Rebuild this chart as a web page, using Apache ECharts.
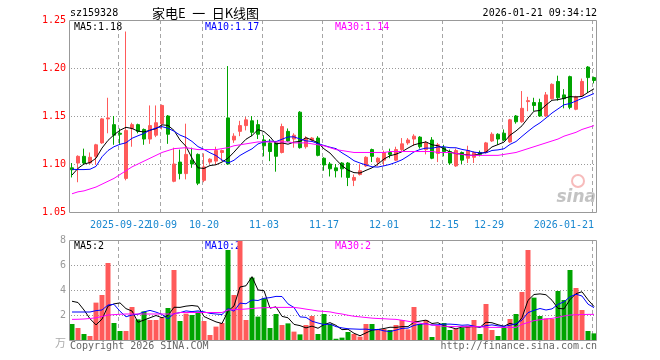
<!DOCTYPE html>
<html><head><meta charset="utf-8">
<script src="https://cdn.jsdelivr.net/npm/echarts@6/dist/echarts.min.js"></script>
<style>html,body{margin:0;padding:0;background:#fff}#c{width:660px;height:360px;background:#fff}</style>
</head><body><div id="c"></div>
<script>
const dates = ['2025-09-10','2025-09-11','2025-09-12','2025-09-15','2025-09-16','2025-09-17','2025-09-18','2025-09-19','2025-09-22','2025-09-23',
'2025-09-24','2025-09-25','2025-09-26','2025-09-29','2025-09-30','2025-10-09','2025-10-10','2025-10-13','2025-10-14','2025-10-15',
'2025-10-16','2025-10-17','2025-10-20','2025-10-21','2025-10-22','2025-10-23','2025-10-24','2025-10-27','2025-10-28','2025-10-29',
'2025-10-30','2025-10-31','2025-11-03','2025-11-04','2025-11-05','2025-11-06','2025-11-07','2025-11-10','2025-11-11','2025-11-12',
'2025-11-13','2025-11-14','2025-11-17','2025-11-18','2025-11-19','2025-11-20','2025-11-21','2025-11-24','2025-11-25','2025-11-26',
'2025-11-27','2025-11-28','2025-12-01','2025-12-02','2025-12-03','2025-12-04','2025-12-05','2025-12-08','2025-12-09','2025-12-10',
'2025-12-11','2025-12-12','2025-12-15','2025-12-16','2025-12-17','2025-12-18','2025-12-19','2025-12-22','2025-12-23','2025-12-24',
'2025-12-25','2025-12-26','2025-12-29','2025-12-30','2025-12-31','2026-01-05','2026-01-06','2026-01-07','2026-01-08','2026-01-09',
'2026-01-12','2026-01-13','2026-01-14','2026-01-15','2026-01-16','2026-01-19','2026-01-20','2026-01-21'];

const opens = [1.096,1.101,1.108,1.101,1.108,1.122,1.147,1.141,1.132,1.085,
 1.137,1.141,1.136,1.126,1.130,1.142,1.150,1.082,1.102,1.090,
 1.104,1.110,1.083,1.102,1.103,1.112,1.148,1.125,1.134,1.140,
 1.145,1.141,1.125,1.122,1.122,1.112,1.134,1.126,1.154,1.118,
 1.125,1.127,1.106,1.100,1.096,1.101,1.101,1.083,1.089,1.098,
 1.115,1.102,1.104,1.112,1.104,1.115,1.122,1.126,1.128,1.115,
 1.125,1.111,1.117,1.113,1.098,1.112,1.106,1.107,1.112,1.112,
 1.124,1.131,1.132,1.123,1.150,1.144,1.165,1.164,1.164,1.150,
 1.168,1.186,1.172,1.191,1.157,1.171,1.201,1.190];
const closes = [1.094,1.108,1.101,1.107,1.120,1.147,1.148,1.130,1.131,1.135,
 1.141,1.134,1.126,1.140,1.143,1.161,1.131,1.100,1.090,1.110,
 1.100,1.080,1.097,1.105,1.114,1.114,1.100,1.129,1.140,1.146,
 1.133,1.131,1.119,1.113,1.108,1.139,1.124,1.130,1.117,1.127,
 1.127,1.109,1.099,1.095,1.093,1.095,1.086,1.086,1.093,1.107,
 1.108,1.106,1.112,1.110,1.115,1.121,1.125,1.129,1.118,1.122,
 1.106,1.120,1.113,1.101,1.114,1.104,1.114,1.112,1.110,1.122,
 1.131,1.126,1.125,1.146,1.144,1.158,1.166,1.161,1.150,1.172,
 1.183,1.169,1.168,1.159,1.170,1.186,1.190,1.187];
const lows = [1.086,1.081,1.100,1.100,1.099,1.121,1.132,1.120,1.121,1.083,
 1.118,1.132,1.120,1.121,1.128,1.136,1.121,1.081,1.084,1.084,
 1.096,1.078,1.081,1.100,1.099,1.103,1.099,1.122,1.129,1.135,
 1.129,1.126,1.108,1.103,1.092,1.111,1.123,1.117,1.116,1.116,
 1.124,1.108,1.093,1.087,1.086,1.086,1.077,1.077,1.088,1.097,
 1.102,1.098,1.098,1.106,1.103,1.113,1.120,1.119,1.116,1.110,
 1.105,1.102,1.108,1.099,1.097,1.100,1.101,1.101,1.108,1.111,
 1.123,1.120,1.124,1.122,1.142,1.143,1.155,1.155,1.149,1.149,
 1.167,1.166,1.158,1.157,1.156,1.170,1.174,1.184];
const highs = [1.101,1.109,1.116,1.112,1.121,1.148,1.169,1.150,1.137,1.238,
 1.143,1.142,1.137,1.161,1.161,1.162,1.151,1.117,1.115,1.142,
 1.117,1.111,1.111,1.106,1.118,1.115,1.202,1.132,1.145,1.149,
 1.150,1.146,1.130,1.126,1.124,1.142,1.137,1.132,1.155,1.129,
 1.128,1.129,1.107,1.102,1.100,1.102,1.102,1.089,1.100,1.108,
 1.116,1.107,1.114,1.116,1.118,1.127,1.127,1.131,1.129,1.124,
 1.128,1.122,1.120,1.115,1.116,1.113,1.119,1.113,1.114,1.123,
 1.133,1.132,1.136,1.147,1.151,1.176,1.170,1.169,1.168,1.175,
 1.184,1.192,1.178,1.192,1.171,1.189,1.202,1.191];

const ma5 = [1.0885,1.0955,1.100,1.1015,1.106,1.1166,1.1246,1.1304,1.1352,1.1382,
 1.137,1.1342,1.1334,1.1352,1.1368,1.1408,1.1402,1.135,1.125,1.1184,
 1.1062,1.096,1.0954,1.0984,1.0992,1.102,1.106,1.1124,1.1194,1.1258,
 1.1296,1.1358,1.1338,1.1284,1.1208,1.122,1.1206,1.1228,1.1236,1.1274,
 1.125,1.122,1.1158,1.1114,1.1046,1.0982,1.0936,1.091,1.0906,1.0934,
 1.096,1.100,1.1052,1.1086,1.1102,1.1128,1.1166,1.120,1.1216,1.123,
 1.120,1.119,1.1158,1.1124,1.1108,1.1104,1.1092,1.109,1.1108,1.1124,
 1.1178,1.1202,1.1228,1.130,1.1344,1.1398,1.1478,1.155,1.1558,1.1614,
 1.1664,1.167,1.1684,1.1702,1.1698,1.1704,1.1746,1.1784];
const ma10 = [1.0945,1.0942,1.0942,1.0945,1.0975,1.1075,1.114,1.118,1.1205,1.1221,
 1.1268,1.1294,1.1319,1.1352,1.1375,1.1389,1.1372,1.1342,1.1301,1.1276,
 1.1235,1.1181,1.1152,1.1117,1.1088,1.1041,1.101,1.1039,1.1089,1.1125,
 1.1158,1.1209,1.1231,1.1239,1.1233,1.1258,1.1282,1.1283,1.126,1.1241,
 1.1235,1.1213,1.1193,1.1175,1.116,1.1116,1.1078,1.1034,1.101,1.099,
 1.0971,1.0968,1.0981,1.0996,1.1018,1.1044,1.1083,1.1126,1.1151,1.1166,
 1.1164,1.1178,1.1179,1.117,1.1169,1.1152,1.1141,1.1124,1.1116,1.1116,
 1.1141,1.1147,1.1159,1.1204,1.1234,1.1288,1.134,1.1389,1.1429,1.1479,
 1.1531,1.1574,1.1617,1.163,1.1656,1.1684,1.1708,1.1734];
const ma30 = [1.069,1.071,1.072,1.074,1.076,1.079,1.082,1.085,1.089,1.093,
 1.097,1.100,1.103,1.106,1.109,1.112,1.114,1.116,1.1165,1.117,
 1.116,1.115,1.115,1.115,1.115,1.116,1.117,1.119,1.120,1.121,
 1.122,1.123,1.123,1.123,1.123,1.123,1.123,1.122,1.122,1.122,
 1.121,1.120,1.119,1.117,1.115,1.114,1.113,1.112,1.112,1.112,
 1.112,1.112,1.112,1.113,1.113,1.113,1.113,1.113,1.113,1.113,
 1.113,1.112,1.112,1.112,1.111,1.110,1.109,1.109,1.109,1.109,
 1.109,1.109,1.110,1.111,1.112,1.114,1.116,1.118,1.120,1.122,
 1.124,1.126,1.129,1.131,1.133,1.136,1.138,1.140];

const volumes = [1.28,0.96,0.48,0.32,2.99,3.6,6.16,1.36,0.72,0.72,
 2.64,1.65,2.29,1.6,1.6,1.76,2.56,5.6,1.52,2.11,
 2.0,2.27,1.52,0.4,1.07,1.36,7.2,3.6,7.95,1.6,
 4.99,1.87,3.33,0.96,2.08,1.2,1.33,0.67,0.45,1.2,
 1.92,0.48,2.08,1.28,0.1,0.19,0.64,0.48,0.27,1.28,
 1.28,0.88,0.88,0.8,1.2,1.6,0.85,2.64,1.28,1.6,
 0.24,1.15,1.36,0.8,0.88,0.99,1.15,1.6,0.48,2.88,
 0.8,0.32,1.04,1.68,2.08,3.84,7.2,3.39,1.92,1.73,
 1.68,3.92,3.2,5.6,4.16,2.4,0.72,0.53];
const volMa5 = [3.1,3.0,2.4,1.7,1.21,1.67,2.71,2.89,2.97,2.51,
 2.32,1.42,1.60,1.78,1.96,1.78,1.96,2.62,2.61,2.71,
 2.76,2.70,1.88,1.66,1.45,1.32,2.31,2.73,4.24,4.34,
 5.07,4.00,3.95,2.55,2.65,1.89,1.78,1.25,1.15,0.97,
 1.11,0.94,1.23,1.39,1.17,0.83,0.86,0.54,0.34,0.57,
 0.79,0.84,0.92,1.02,1.01,1.07,1.07,1.42,1.51,1.59,
 1.32,1.38,1.13,1.03,0.89,1.04,1.04,1.08,1.02,1.42,
 1.38,1.22,1.10,1.34,1.18,1.79,3.17,3.64,3.69,3.62,
 3.18,2.53,2.49,3.23,3.71,3.86,3.22,2.68];
const volMa10 = [2.24,2.24,2.24,2.24,2.35,2.4,2.8,2.85,2.3,1.86,
 2.00,2.06,2.25,2.37,2.23,2.05,1.69,2.11,2.19,2.33,
 2.27,2.33,2.25,2.13,2.08,2.04,2.51,2.31,2.95,2.90,
 3.20,3.16,3.34,3.39,3.49,3.48,2.89,2.60,1.85,1.81,
 1.50,1.36,1.24,1.27,1.07,0.97,0.90,0.88,0.86,0.87,
 0.81,0.85,0.73,0.68,0.79,0.93,0.95,1.17,1.27,1.30,
 1.20,1.22,1.27,1.27,1.24,1.18,1.21,1.11,1.03,1.15,
 1.21,1.13,1.09,1.18,1.30,1.59,2.19,2.37,2.52,2.40,
 2.49,2.85,3.06,3.46,3.66,3.52,2.87,2.59];
const volMa30 = [1.65,1.66,1.68,1.72,1.78,1.88,2.0,2.03,2.06,2.08,
 2.08,2.08,2.08,2.08,2.08,2.08,2.08,2.08,2.2,2.2,
 2.2,2.2,2.2,2.2,2.2,2.2,2.4,2.42,2.45,2.48,
 2.52,2.56,2.58,2.6,2.61,2.61,2.61,2.61,2.55,2.47,
 2.4,2.32,2.29,2.25,2.15,2.08,1.98,1.9,1.85,1.8,
 1.75,1.72,1.7,1.67,1.65,1.58,1.5,1.42,1.35,1.27,
 1.2,1.15,1.1,1.08,1.07,1.07,1.07,1.07,1.07,1.01,
 1.01,1.01,1.01,1.01,1.01,1.25,1.4,1.55,1.62,1.68,
 1.73,1.82,1.92,2.0,2.02,2.04,2.05,2.05];

const tickIndex = [8,15,22,32,42,52,62,72,87];
const tickLabels = ['2025-09-22','10-09','10-20','11-03','11-17','12-01','12-15','12-29','2026-01-21'];
const priceLines = [1.10, 1.15, 1.20];
const volLines = [2, 4, 6];
const priceRange = [1.05, 1.25];
const volRange = [0, 8];

const UP = '#ff5a5a', DOWN = '#00a400';
const MONO = '"DejaVu Sans Mono", "Liberation Mono", monospace';
const labelFor = (i) => { const k = tickIndex.indexOf(i); return k >= 0 ? tickLabels[k] : ''; };
const setA = tickIndex.filter((d, k) => k % 2 === 0);
const setB = tickIndex.filter((d, k) => k % 2 === 1);

const kData = dates.map((d, i) => [opens[i], closes[i], lows[i], highs[i]]);
const volData = volumes.map((v, i) => ({value: v, itemStyle: {color: closes[i] >= opens[i] ? UP : DOWN}}));

const chart = echarts.init(document.getElementById('c'), null, {renderer: 'canvas'});
const gridLeft = 69, gridRight = 63, W = 660 - gridLeft - gridRight;
const G1 = {top: 20, h: 192}, G2 = {top: 240, h: 100};
const txt = (x, y, text, fill, font, align, z) => ({type: 'text', x: x, y: y, silent: true, z: z == null ? 100 : z,
  style: {text: text, fill: fill, font: font || ('10px ' + MONO), align: align || 'left', verticalAlign: 'middle'}});
const frame = (g) => ({type: 'rect', silent: true, z: 50, shape: {x: gridLeft + 0.5, y: g.top + 0.5, width: W - 1, height: g.h},
  style: {fill: 'none', stroke: '#999', lineWidth: 1}});
const labelAxis = (set) => ({type: 'category', gridIndex: 0, data: dates, boundaryGap: true, position: 'bottom',
  axisLine: {show: false}, axisTick: {show: false}, splitLine: {show: false},
  axisLabel: {show: true, interval: (i) => set.indexOf(i) >= 0, hideOverlap: false, showMinLabel: true, showMaxLabel: true,
    margin: 8, color: '#1a88d0', fontFamily: MONO, fontSize: 10, alignMaxLabel: 'right', formatter: (v, i) => labelFor(i)}});

const baseGraphics = [
  frame(G1), frame(G2),
  txt(70, 13, 'sz159328', '#000'),
  txt(152, 13, '家电E\u2002一\u2002日K线图', '#000', '13px "Noto Sans CJK SC"'),
  txt(597, 13, '2026-01-21 09:34:12', '#000', null, 'right'),
  txt(74, 27, 'MA5:1.18', '#000', null, null, 1),
  txt(205, 27, 'MA10:1.17', '#0000ff', null, null, 1),
  txt(335, 27, 'MA30:1.14', '#ff00ff', null, null, 1),
  txt(74, 246, 'MA5:2', '#000', null, null, 1),
  txt(205, 246, 'MA10:2', '#0000ff', null, null, 1),
  txt(335, 246, 'MA30:2', '#ff00ff', null, null, 1),
  txt(70, 346, 'Copyright 2026 SINA.COM', '#666'),
  txt(597, 346, 'http://finance.sina.com.cn', '#666', null, 'right'),
  txt(55, 343, '万', '#aaa', '11px "Noto Sans CJK SC"'),
  txt(596, 198, 'sina', 'rgba(170,170,170,0.7)', 'italic bold 17px "DejaVu Sans"', 'right', 1),
  {type: 'circle', z: 1, shape: {cx: 578, cy: 181, r: 6}, silent: true, style: {fill: 'none', stroke: 'rgba(240,120,120,0.5)', lineWidth: 2}}
];

chart.setOption({
  animation: false,
  grid: [
    {left: gridLeft, right: gridRight, top: G1.top, height: G1.h, show: false},
    {left: gridLeft, right: gridRight, top: G2.top, height: G2.h, show: false}
  ],
  xAxis: [
    labelAxis(setA),
    {type: 'category', gridIndex: 1, data: dates, boundaryGap: true,
     axisLine: {show: false}, axisTick: {show: false}, axisLabel: {show: false}, splitLine: {show: false}},
    labelAxis(setB)
  ],
  yAxis: [
    {type: 'value', gridIndex: 0, min: priceRange[0], max: priceRange[1], interval: 0.05, position: 'left',
     axisLine: {show: false}, axisTick: {show: false}, splitLine: {show: false},
     axisLabel: {color: '#ff0000', fontFamily: MONO, fontSize: 10, margin: 3, formatter: (v) => v.toFixed(2)}},
    {type: 'value', gridIndex: 1, min: volRange[0], max: volRange[1], interval: 2, position: 'left',
     axisLine: {show: false}, axisTick: {show: false}, splitLine: {show: false},
     axisLabel: {color: '#999', fontFamily: MONO, fontSize: 10, margin: 3, formatter: (v) => v === 0 ? '' : String(v)}}
  ],
  series: [
    {type: 'candlestick', xAxisIndex: 0, yAxisIndex: 0, data: kData, barWidth: 4, z: 2,
     itemStyle: {color: UP, color0: DOWN, borderColor: UP, borderColor0: DOWN, borderWidth: 1}},
    {type: 'line', xAxisIndex: 0, yAxisIndex: 0, data: ma5, symbol: 'none', lineStyle: {color: '#000', width: 1}, z: 5},
    {type: 'line', xAxisIndex: 0, yAxisIndex: 0, data: ma10, symbol: 'none', lineStyle: {color: '#0000ff', width: 1}, z: 5},
    {type: 'line', xAxisIndex: 0, yAxisIndex: 0, data: ma30, symbol: 'none', lineStyle: {color: '#ff00ff', width: 1}, z: 5},
    {type: 'bar', xAxisIndex: 1, yAxisIndex: 1, data: volData, barWidth: 5, z: 2},
    {type: 'line', xAxisIndex: 1, yAxisIndex: 1, data: volMa5, symbol: 'none', lineStyle: {color: '#000', width: 1}, z: 5},
    {type: 'line', xAxisIndex: 1, yAxisIndex: 1, data: volMa10, symbol: 'none', lineStyle: {color: '#0000ff', width: 1}, z: 5},
    {type: 'line', xAxisIndex: 1, yAxisIndex: 1, data: volMa30, symbol: 'none', lineStyle: {color: '#ff00ff', width: 1}, z: 5}
  ],
  graphic: baseGraphics
});

// Grid lines: one dashed/dotted polyline per line, positions from the chart's axes (convertToPixel).
function gridGraphics(xAxisIndex, yAxisIndex, range, hVals, g) {
  const out = [];
  const finder = {xAxisIndex: xAxisIndex, yAxisIndex: yAxisIndex};
  const conv = (p) => {
    const r = chart.convertToPixel(finder, p);
    if (r && isFinite(r[0]) && isFinite(r[1])) return r;
    const slot = W / dates.length;
    return [gridLeft + (p[0] + 0.5) * slot, g.top + g.h * (range[1] - p[1]) / (range[1] - range[0])];
  };
  const top = conv([0, range[1]])[1], bot = conv([0, range[0]])[1];
  tickIndex.forEach((i) => {
    const x = Math.round(conv([i, range[0]])[0]) - 2;
    for (let y = top; y < bot; y += 7) {
      out.push({type: 'rect', silent: true, z: 1, z2: 0,
        shape: {x: x, y: Math.round(y), width: 1, height: Math.min(4, bot - y)}, style: {fill: '#a6a6a6'}});
    }
  });
  hVals.forEach((v) => {
    const y = Math.round(conv([0, v])[1]);
    for (let x = gridLeft + 2; x < gridLeft + W - 1; x += 3) {
      out.push({type: 'rect', silent: true, z: 1, z2: 0,
        shape: {x: x, y: y, width: 1, height: 1}, style: {fill: '#999'}});
    }
  });
  return out;
}
let extra = [];
try { extra = extra.concat(gridGraphics(0, 0, priceRange, priceLines, G1)); } catch (e) {}
try { extra = extra.concat(gridGraphics(1, 1, volRange, volLines, G2)); } catch (e) {}
chart.setOption({graphic: baseGraphics.concat(extra)});
</script>
</body></html>
